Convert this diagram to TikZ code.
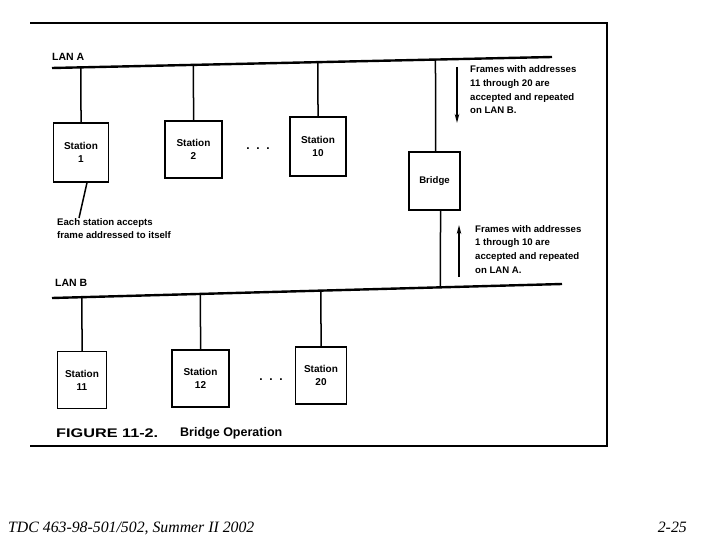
\documentclass[tikz,border=0pt]{standalone}
\usepackage{fontspec}
\setmainfont{Liberation Sans}
\newfontfamily\footfont{Liberation Serif}
\newfontfamily\capwide[FakeStretch=1.3]{Liberation Sans}
\usetikzlibrary{calc,arrows.meta}
\begin{document}
\begin{tikzpicture}[x=1pt,y=-1pt,
  stationbox/.style={draw,line width=1.4pt,align=center,inner sep=0pt,
    font=\fontsize{10}{13}\selectfont\bfseries},
  lanline/.style={line width=2.4pt},
  drop/.style={line width=1.5pt},
  lbl/.style={font=\fontsize{9.6}{13.7}\selectfont\bfseries,align=left,anchor=north west,inner sep=0pt},
  flow/.style={line width=2pt,-{Stealth[length=9pt,width=4.5pt]}},
  framel/.style={line width=1.2pt}]
\useasboundingbox (0,0) rectangle (720,540);
\fill[white] (0,0) rectangle (720,540);
% frame
\draw[framel] (30,23) -- (607,23) -- (607,446) -- (30,446);
% LAN A
\coordinate (aL) at (52,68);
\coordinate (aR) at (552,57);
\draw[lanline] (aL) -- (aR);
\node[font=\fontsize{10.5}{12}\selectfont\bfseries,anchor=south west,inner sep=0pt] (lana) at (52,61) {LAN A};
% LAN B
\coordinate (bL) at (52,298);
\coordinate (bR) at (562,284);
\draw[lanline] (bL) -- (bR);
\node[font=\fontsize{10.5}{12}\selectfont\bfseries,anchor=south west,inner sep=0pt] (lanb) at (55,287) {LAN B};
% stations on LAN A
\node[stationbox,minimum width=55pt,minimum height=59pt] (s1) at (81,152.5) {Station\\1};
\node[stationbox,minimum width=57pt,minimum height=57pt] (s2) at (193.5,149.5) {Station\\2};
\node[stationbox,minimum width=56pt,minimum height=59pt] (s10) at (318,146.5) {Station\\10};
\node[font=\fontsize{12}{12}\selectfont\bfseries] (dotsa) at (258,149) {.\ \ .\ \ .};
% stations on LAN B
\node[stationbox,minimum width=49pt,minimum height=57pt] (s11) at (82,380) {Station\\11};
\node[stationbox,minimum width=57pt,minimum height=57pt] (s12) at (200.5,378.5) {Station\\12};
\node[stationbox,minimum width=51pt,minimum height=57pt] (s20) at (321,375.5) {Station\\20};
\node[font=\fontsize{12}{12}\selectfont\bfseries] (dotsb) at (271,380) {.\ \ .\ \ .};
% bridge
\node[stationbox,minimum width=51pt,minimum height=58pt,font=\fontsize{9.6}{12}\selectfont\bfseries] (br) at (434.5,181) {Bridge};
% drops (vertical, ending on the slightly tilted LAN lines)
\foreach \s in {s1,s2,s10}{
  \draw[drop] (\s.north) -- (intersection of aL--aR and \s.north--\s.center);
}
\foreach \s in {s11,s12,s20}{
  \draw[drop] (\s.north) -- (intersection of bL--bR and \s.north--\s.center);
}
\coordinate (bt) at ($(br.north)+(1,0)$);
\coordinate (btd) at ($(br.north)+(1,10)$);
\draw[drop] (bt) -- (intersection of aL--aR and bt--btd);
\coordinate (bb) at ($(br.south)+(6,0)$);
\coordinate (bbd) at ($(br.south)+(6,10)$);
\draw[drop] (bb) -- (intersection of bL--bR and bb--bbd);
% annotation
\coordinate (annot) at (79,218);
\draw[drop] ($(s1.south)+(6,0)$) -- (annot);
\node[lbl] (note1) at (57,218) {Each station accepts\\frame addressed to itself};
% flow arrows
\coordinate (dA1) at (457,67);
\coordinate (dA2) at (457,123);
\draw[flow] (dA1) -- (dA2);
\node[lbl] (txtdown) at (470,65.5) {Frames with addresses\\11 through 20 are\\accepted and repeated\\on LAN B.};
\coordinate (uA1) at (459,277);
\coordinate (uA2) at (459,225);
\draw[flow] (uA1) -- (uA2);
\node[lbl] (txtup) at (475,225) {Frames with addresses\\1 through 10 are\\accepted and repeated\\on LAN A.};
% caption
\node[anchor=base west,inner sep=0pt,font=\capwide\fontsize{12.5}{14}\selectfont\bfseries] (cap1) at (56,437) {FIGURE 11-2.};
\node[anchor=base west,inner sep=0pt,font=\fontsize{12.5}{14}\selectfont\bfseries] (cap2) at (180,436) {Bridge Operation};
% footer
\node[anchor=base west,inner sep=0pt,font=\footfont\itshape\fontsize{15.8}{18}\selectfont] (foot1) at (8,532) {TDC 463-98-501/502, Summer II 2002};
\node[anchor=base east,inner sep=0pt,font=\footfont\itshape\fontsize{15.8}{18}\selectfont] (foot2) at (687,532) {2-25};
\end{tikzpicture}
\end{document}
